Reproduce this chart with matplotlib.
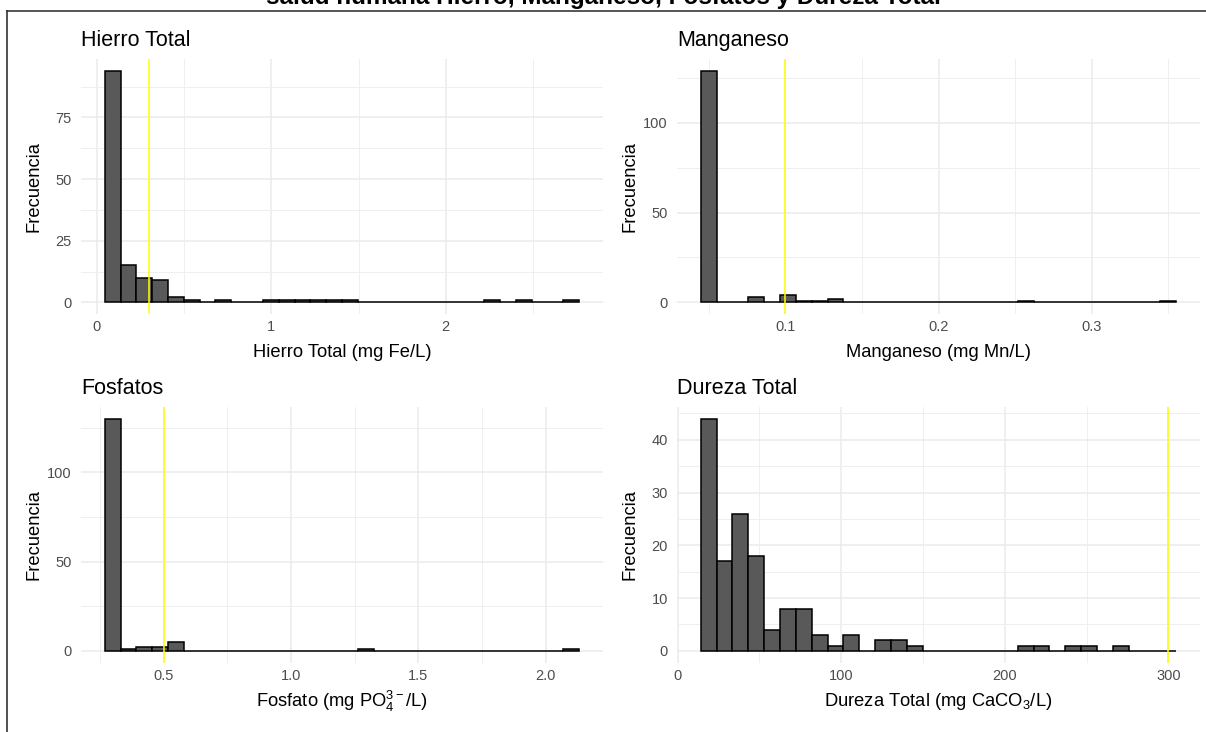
import numpy as np
import matplotlib
matplotlib.use("Agg")
import matplotlib.pyplot as plt
from matplotlib.lines import Line2D

plt.rcParams['font.family'] = ['Liberation Sans', 'DejaVu Sans']
plt.rcParams['mathtext.fontset'] = 'custom'
plt.rcParams['mathtext.rm'] = 'Liberation Sans'
plt.rcParams['mathtext.it'] = 'Liberation Sans:italic'
plt.rcParams['mathtext.bf'] = 'Liberation Sans:bold'

# bin counts (30 bins, ggplot default)
hierro_counts = [94, 15, 10, 9, 2, 1, 0, 1, 0, 0,
                 1, 1, 1, 1, 1, 1, 0, 0, 0, 0,
                 0, 0, 0, 0, 1, 0, 1, 0, 0, 1]
manganeso_counts = [129, 0, 0, 3, 0, 4, 1, 1, 2, 0,
                    0, 0, 0, 0, 0, 0, 0, 0, 0, 0,
                    1, 0, 0, 0, 0, 0, 0, 0, 0, 1]
fosfato_counts = [130, 1, 2, 2, 5, 0, 0, 0, 0, 0,
                  0, 0, 0, 0, 0, 0, 1, 0, 0, 0,
                  0, 0, 0, 0, 0, 0, 0, 0, 0, 1]
dureza_counts = [44, 17, 26, 18, 4, 8, 8, 3, 1, 3,
                 0, 2, 2, 1, 0, 0, 0, 0, 0, 0,
                 1, 1, 0, 1, 1, 0, 1, 0, 0, 0]

# data range (first / last bin centre) and guideline value
hierro_range = (0.09, 2.72)
manganeso_range = (0.05, 0.35)
fosfato_range = (0.3, 2.1)
dureza_range = (19, 300)
limits = [0.3, 0.1, 0.5, 300]

titles = ["Hierro Total", "Manganeso", "Fosfatos", "Dureza Total"]
xlabels = ["Hierro Total (mg Fe/L)", "Manganeso (mg Mn/L)",
           r"Fosfato (mg PO$_4^{3-}$/L)", r"Dureza Total (mg CaCO$_3$/L)"]
xticks = [[0, 1, 2], [0.1, 0.2, 0.3], [0.5, 1.0, 1.5, 2.0], [0, 100, 200, 300]]
xticklabels = [["0", "1", "2"], ["0.1", "0.2", "0.3"],
               ["0.5", "1.0", "1.5", "2.0"], ["0", "100", "200", "300"]]
yticks = [[0, 25, 50, 75], [0, 50, 100], [0, 50, 100], [0, 10, 20, 30, 40]]

W, H = 1206, 732
fig = plt.figure(figsize=(W / 100, H / 100), dpi=100)

# panel boxes in pixels: left, top, right, bottom
boxes = [(81, 59, 603, 314), (677, 59, 1200, 314),
         (81, 407, 603, 662.5), (677, 407, 1200, 662.5)]


def minor_between(major, lo, hi):
    step = major[1] - major[0]
    m = np.arange(major[0] - step / 2, hi, step)
    return [v for v in m if lo < v < hi]


def draw_hist(ax, counts, rng, limit, xt, xtl, yt, title, xlabel, box):
    n = len(counts)
    width = (rng[1] - rng[0]) / (n - 1)
    edges = rng[0] - width / 2 + width * np.arange(n + 1)
    ax.bar(edges[:-1], counts, width=width, align='edge', color='#595959',
           edgecolor='black', linewidth=1.1, zorder=2)
    ax.axvline(limit, color='#FFFF00', lw=1.1, zorder=3)

    pad = 0.05 * (edges[-1] - edges[0])
    x0, x1 = edges[0] - pad, edges[-1] + pad
    top = max(counts)
    y0, y1 = -0.05 * top, 1.05 * top
    ax.set_xlim(x0, x1)
    ax.set_ylim(y0, y1)

    ax.set_xticks(xt)
    ax.set_xticklabels(xtl)
    ax.set_xticks(minor_between(xt, x0, x1), minor=True)
    ax.set_yticks(yt)
    ax.set_yticks(minor_between(yt, y0, y1), minor=True)
    ax.grid(which='major', color='#EBEBEB', lw=1.1, zorder=0)
    ax.grid(which='minor', color='#EFEFEF', lw=0.7, zorder=0)
    ax.set_axisbelow(True)
    for s in ax.spines.values():
        s.set_visible(False)
    ax.tick_params(which='both', length=0, labelsize=10.5, labelcolor='#4D4D4D')
    ax.tick_params(axis='x', pad=4.5)
    ax.tick_params(axis='y', pad=6.5)

    pw = box[2] - box[0]
    ph = box[3] - box[1]
    ax.set_xlabel(xlabel, fontsize=13.2)
    ax.xaxis.label.set_va('center')
    ax.xaxis.set_label_coords(0.5, -39 / ph)
    ax.set_ylabel("Frecuencia", fontsize=13.2)
    ax.yaxis.label.set_va('center')
    ax.yaxis.set_label_coords(-47.5 / pw, 0.5)
    ax.text(0, 1 + 13 / ph, title, transform=ax.transAxes, ha='left',
            va='baseline', fontsize=15.5)


all_counts = [hierro_counts, manganeso_counts, fosfato_counts, dureza_counts]
all_ranges = [hierro_range, manganeso_range, fosfato_range, dureza_range]

for i in range(4):
    l, t, r, b = boxes[i]
    ax = fig.add_axes([l / W, 1 - b / H, (r - l) / W, (b - t) / H])
    draw_hist(ax, all_counts[i], all_ranges[i], limits[i], xticks[i],
              xticklabels[i], yticks[i], titles[i], xlabels[i], boxes[i])

# main title, cut off by the top edge as in the screenshot
fig.text(603.5 / W, 1 - 4 / H,
         "salud humana Hierro, Manganeso, Fosfatos y Dureza Total",
         ha='center', va='baseline', fontsize=17.5, fontweight='bold')

# frame lines (top and left)
bx, by = 7.3 / W, 1 - 10.7 / H
fig.add_artist(Line2D([bx, 1], [by, by], transform=fig.transFigure,
                      color='#555555', lw=1.4))
fig.add_artist(Line2D([bx, bx], [0, by], transform=fig.transFigure,
                      color='#333333', lw=1.2))

fig.savefig("out.png", dpi=100)
